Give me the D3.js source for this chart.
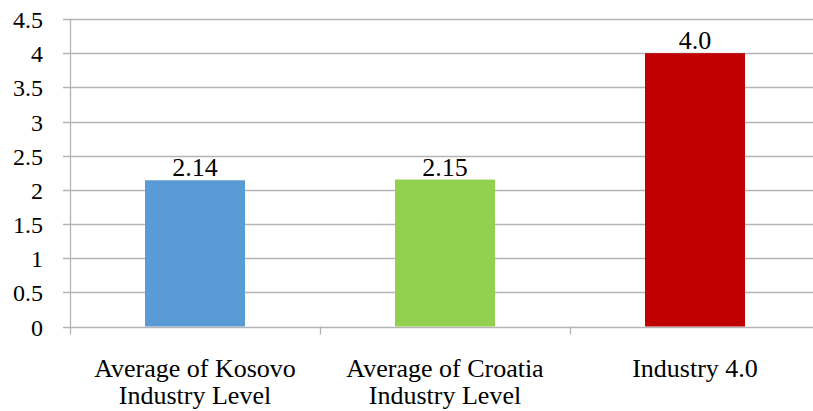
<!DOCTYPE html>
<html><head><meta charset="utf-8"><script src="https://cdn.jsdelivr.net/npm/d3@7"></script></head>
<body style="margin:0;background:#fff">
<svg id="chart" width="813" height="411"></svg>
<script>
// Industry level scores
const categories = [
  ["Average of Kosovo", "Industry Level"],
  ["Average of Croatia", "Industry Level"],
  ["Industry 4.0"]
];
const values = [2.14, 2.15, 4.0];
const valueLabels = ["2.14", "2.15", "4.0"];
const colors = ["#5B9BD5", "#92D050", "#C00000"];
const yTicks = [0, 0.5, 1, 1.5, 2, 2.5, 3, 3.5, 4, 4.5];

const svg = d3.select("#chart");
const plotLeft = 70, plotRight = 820, plotTop = 19, plotBottom = 326.5;
const gridColor = "#b4b4b4";

const xScale = d3.scaleBand().domain(d3.range(categories.length)).range([plotLeft, plotRight]);
const yScale = d3.scaleLinear().domain([0, 4.5]).range([plotBottom, plotTop]);

// horizontal gridlines with left tick stubs
svg.append("g").selectAll("line").data(yTicks).join("line")
  .attr("x1", plotLeft - 7).attr("x2", plotRight)
  .attr("y1", d => Math.round(yScale(d)) + 0.5).attr("y2", d => Math.round(yScale(d)) + 0.5)
  .attr("stroke", gridColor).attr("stroke-width", 1.3);

// y tick labels
svg.append("g").selectAll("text").data(yTicks).join("text")
  .attr("x", 43).attr("y", d => yScale(d) + 9)
  .attr("text-anchor", "end")
  .style("font-family", "Liberation Serif").attr("font-size", 24)
  .text(d => String(d));

// vertical axis line
svg.append("line").attr("x1", plotLeft + 0.5).attr("x2", plotLeft + 0.5)
  .attr("y1", plotTop).attr("y2", plotBottom + 8)
  .attr("stroke", gridColor).attr("stroke-width", 1.3);

// category boundary ticks below the axis
const boundaries = d3.range(1, categories.length).map(i => xScale(i));
svg.append("g").selectAll("line").data(boundaries).join("line")
  .attr("x1", d => d + 0.5).attr("x2", d => d + 0.5)
  .attr("y1", plotBottom).attr("y2", plotBottom + 8)
  .attr("stroke", gridColor).attr("stroke-width", 1.3);

// bars
const barW = xScale.bandwidth() * 0.4;
svg.append("g").selectAll("rect").data(values).join("rect")
  .attr("x", (d, i) => xScale(i) + (xScale.bandwidth() - barW) / 2)
  .attr("y", d => yScale(d))
  .attr("width", barW)
  .attr("height", d => yScale(0) - yScale(d))
  .attr("fill", (d, i) => colors[i]);

// value labels
svg.append("g").selectAll("text").data(values).join("text")
  .attr("x", (d, i) => xScale(i) + xScale.bandwidth() / 2)
  .attr("y", d => yScale(d) - 4)
  .attr("text-anchor", "middle")
  .style("font-family", "Liberation Serif").attr("font-size", 26)
  .text((d, i) => valueLabels[i]);

// category labels, one text per line
categories.forEach((lines, i) => {
  lines.forEach((line, j) => {
    svg.append("text")
      .attr("x", xScale(i) + xScale.bandwidth() / 2)
      .attr("y", 377 + j * 26.5)
      .attr("text-anchor", "middle")
      .style("font-family", "Liberation Serif").attr("font-size", 26)
      .text(line);
  });
});
</script>
</body>
</html>
